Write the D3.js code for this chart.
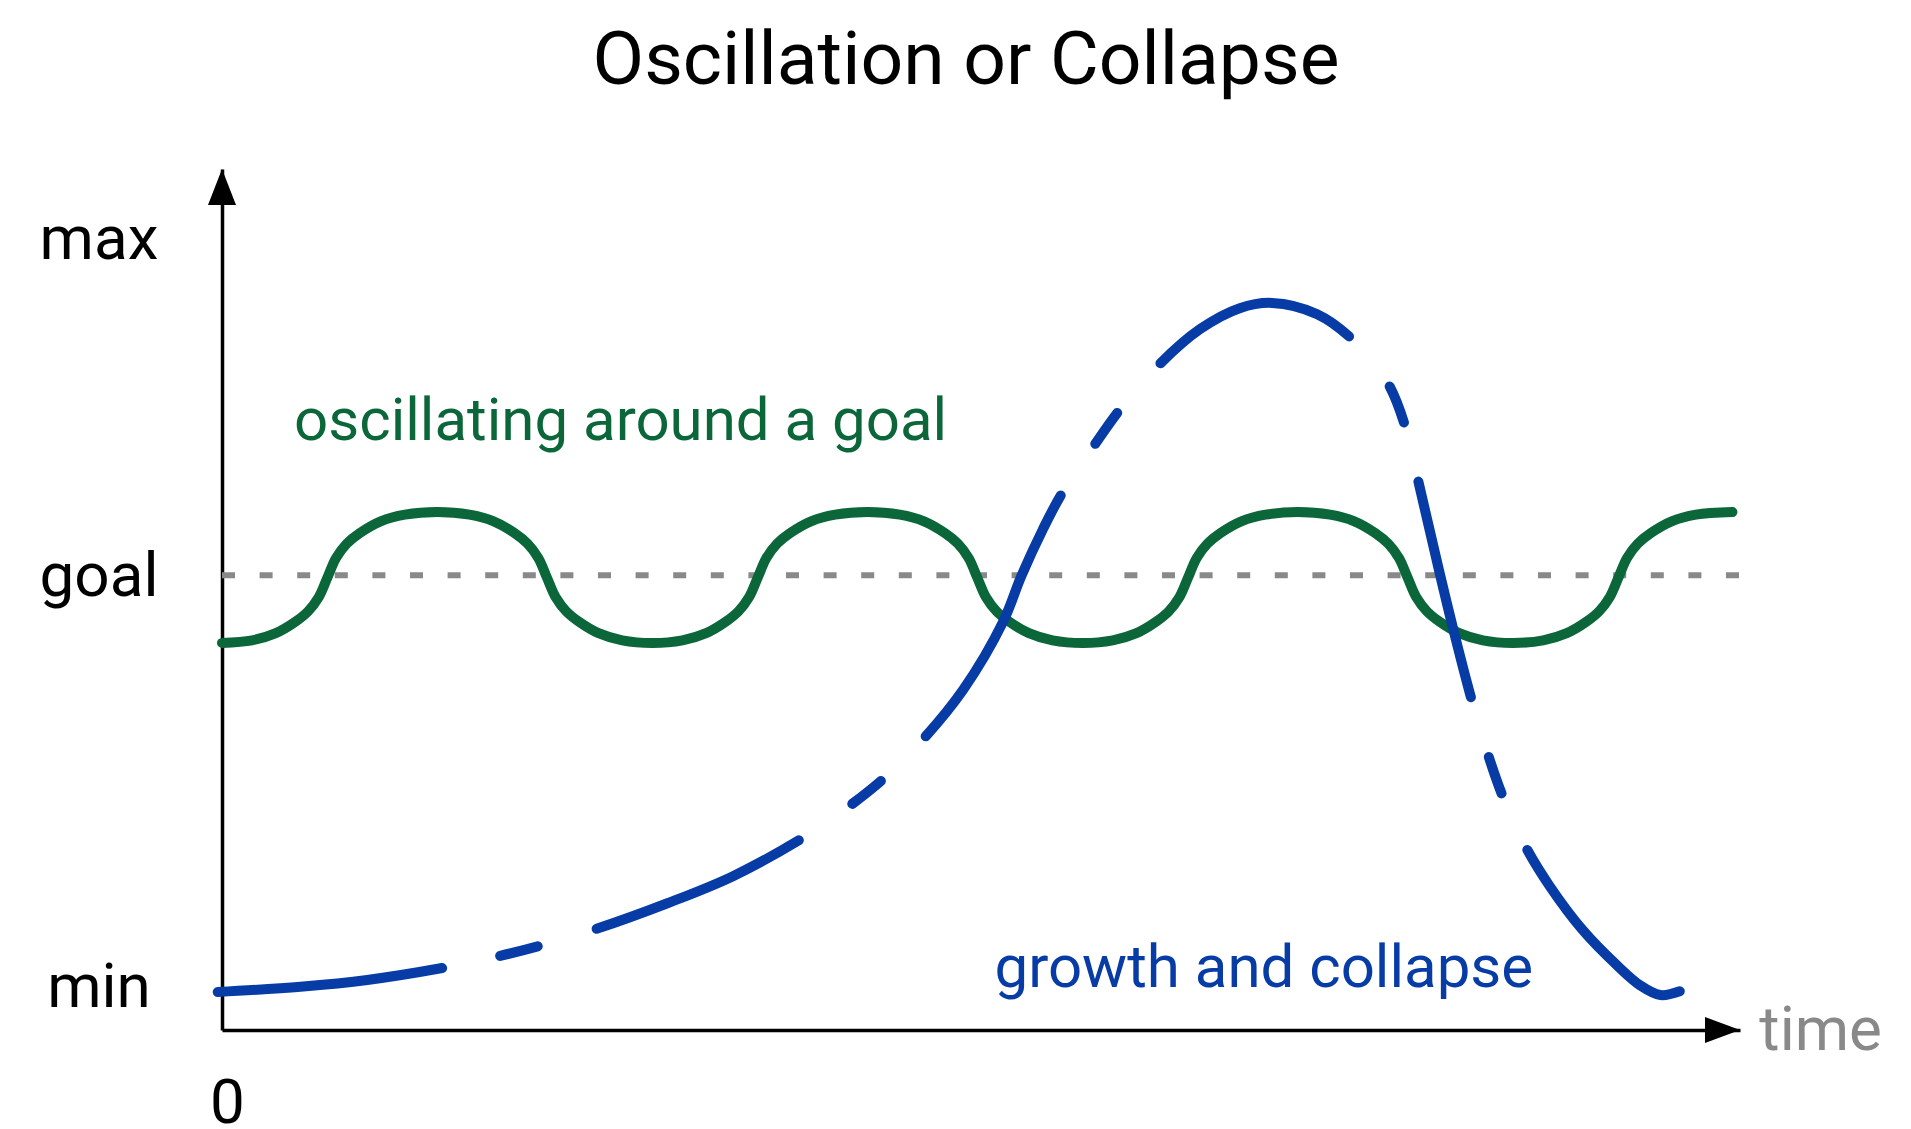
<!DOCTYPE html>
<html>
<head>
<meta charset="utf-8">
<title>Oscillation or Collapse</title>
<script src="https://cdn.jsdelivr.net/npm/d3@7"></script>
<style>
  body { margin: 0; background: #fff; }
  svg { display: block; font-family: Roboto, "Noto Sans", sans-serif; }
</style>
</head>
<body>
<div id="chart"></div>
<script>
/* Oscillation or Collapse - sketch of two behaviours over time */

const width = 1911,
    height = 1129,
    margin = ({ top: 169, right: 171, bottom: 99, left: 222 });

// time is counted in quarter swings of the oscillation
const timeMax = 14.11;
const levelMin = -5.05, levelMax = 109.4;

// y axis labels
const levelTicks = [0.7, 55.4, 100.2];
const levelNames = ["min", "goal", "max"];
const goalLevel = 55.4;
const timeTicks = [0];

// green: oscillating around a goal  [time, level]
const oscillation = [
  [0, 46.4], [0.28, 46.75], [0.5, 47.7], [0.68, 49.2], [0.8, 50.6], [0.9, 52.5], [0.98, 55.1],
  [1.06, 57.7], [1.16, 59.6], [1.28, 61.0], [1.48, 62.6], [1.7, 63.45], [2, 63.8],
  [2.3, 63.45], [2.52, 62.6], [2.72, 61.0], [2.84, 59.6], [2.94, 57.7], [3.02, 55.1],
  [3.1, 52.5], [3.2, 50.6], [3.32, 49.2], [3.5, 47.7], [3.72, 46.75], [4, 46.4],
  [4.28, 46.75], [4.5, 47.7], [4.68, 49.2], [4.8, 50.6], [4.9, 52.5], [4.98, 55.1],
  [5.06, 57.7], [5.16, 59.6], [5.28, 61.0], [5.48, 62.6], [5.7, 63.45], [6, 63.8],
  [6.3, 63.45], [6.52, 62.6], [6.72, 61.0], [6.84, 59.6], [6.94, 57.7], [7.02, 55.1],
  [7.1, 52.5], [7.2, 50.6], [7.32, 49.2], [7.5, 47.7], [7.72, 46.75], [8, 46.4],
  [8.28, 46.75], [8.5, 47.7], [8.68, 49.2], [8.8, 50.6], [8.9, 52.5], [8.98, 55.1],
  [9.06, 57.7], [9.16, 59.6], [9.28, 61.0], [9.48, 62.6], [9.7, 63.45], [10, 63.8],
  [10.3, 63.45], [10.52, 62.6], [10.72, 61.0], [10.84, 59.6], [10.94, 57.7], [11.02, 55.1],
  [11.1, 52.5], [11.2, 50.6], [11.32, 49.2], [11.5, 47.7], [11.72, 46.75], [12, 46.4],
  [12.28, 46.75], [12.5, 47.7], [12.68, 49.2], [12.8, 50.6], [12.9, 52.5], [12.98, 55.1],
  [13.06, 57.7], [13.16, 59.6], [13.28, 61.0], [13.48, 62.6], [13.7, 63.45], [14.04, 63.8]
];

// blue: growth and collapse  [time, level]
const growthCollapse = [
  [-0.04, 0.0], [0.73, 0.7], [1.35, 1.6], [2.09, 3.3], [2.54, 4.65], [2.98, 6.25], [3.44, 8.2],
  [4.14, 11.8], [4.75, 15.4], [5.40, 20.5], [5.82, 24.6], [6.16, 28.5], [6.51, 33.5], [6.89, 40.2],
  [7.26, 49.2], [7.43, 55.3], [7.63, 61.5], [7.80, 66.1], [8.09, 72.3], [8.35, 77.5], [8.69, 83.1],
  [9.09, 88.1], [9.46, 90.9], [9.76, 91.6], [10.18, 90.1], [10.51, 86.7], [10.83, 81.1], [11.00, 75.1],
  [11.11, 68.5], [11.30, 56.8], [11.44, 48.5], [11.62, 38.6], [11.76, 31.9], [11.91, 25.8], [12.11, 19.5],
  [12.34, 14.1], [12.65, 8.2], [12.97, 3.5], [13.18, 0.9], [13.37, -0.4], [13.55, 0.1]
];

// the inked stretches of the blue dashed line, as time ranges
const growthDashes = [
  [-0.04, 2.09], [2.54, 2.98], [3.44, 5.40], [5.82, 6.16], [6.51, 7.82], [8.09, 8.35],
  [8.69, 10.51], [10.83, 11.00], [11.11, 11.62], [11.76, 11.91], [12.11, 13.55]
];

const green = "#0b6639",
    blue = "#073ca6",
    grey = "#898989";

const svg = d3.select("#chart")
    .append("svg")
    .attr("width", width)
    .attr("height", height)
    .attr("viewBox", [0, 0, width, height]);

let x = d3.scaleLinear()
    .domain([0, timeMax])
    .range([margin.left, width - margin.right]);

let y = d3.scaleLinear()
    .domain([levelMin, levelMax])
    .range([height - margin.bottom, margin.top]);

// Title
svg.append("text")
    .attr("x", 966)
    .attr("y", 84)
    .attr("text-anchor", "middle")
    .attr("font-size", 75)
    .attr("fill", "#000")
    .text("Oscillation or Collapse");

// Y axis with the level names
const yAxis = svg.append("g")
    .attr("transform", `translate(${margin.left},0)`)
    .call(d3.axisLeft(y).tickValues(levelTicks).tickSize(0).tickSizeOuter(0)
        .tickFormat((d, i) => levelNames[i]));
yAxis.attr("font-family", null).attr("font-size", 62);
yAxis.select(".domain").attr("stroke", "#000").attr("stroke-width", 3.5);
yAxis.selectAll("text")
    .attr("text-anchor", "middle")
    .attr("x", -(margin.left - 99))
    .attr("fill", "#000");

// X axis, only the origin labelled
const xAxis = svg.append("g")
    .attr("transform", `translate(0,${height - margin.bottom})`)
    .call(d3.axisBottom(x).tickValues(timeTicks).tickSize(0).tickSizeOuter(0).tickPadding(49));
xAxis.attr("font-family", null).attr("font-size", 62);
xAxis.select(".domain").attr("stroke", "#000").attr("stroke-width", 3.5);
xAxis.selectAll("text").attr("dx", "0.08em").attr("fill", "#000");

// arrow heads
const yTip = [x(0), y(levelMax)],
    xTip = [x(timeMax), y(levelMin)];
svg.append("path")
    .attr("d", `M${yTip[0]},${yTip[1]}L${yTip[0] + 14},${yTip[1] + 36}L${yTip[0] - 14},${yTip[1] + 36}Z`)
    .attr("fill", "#000");
svg.append("path")
    .attr("d", `M${xTip[0]},${xTip[1]}L${xTip[0] - 35},${xTip[1] - 13}L${xTip[0] - 35},${xTip[1] + 13}Z`)
    .attr("fill", "#000");

svg.append("text")
    .attr("x", x(14.29))
    .attr("y", y(-7.7))
    .attr("font-size", 62)
    .attr("fill", grey)
    .text("time");

// goal line
svg.append("line")
    .attr("x1", x(0))
    .attr("x2", x(timeMax))
    .attr("y1", y(goalLevel))
    .attr("y2", y(goalLevel))
    .attr("stroke", grey)
    .attr("stroke-width", 6)
    .attr("stroke-dasharray", "13 24.6");

let line = d3.line()
    .x(d => x(d[0]))
    .y(d => y(d[1]));

svg.append("path")
    .datum(oscillation)
    .attr("d", line.curve(d3.curveCatmullRom.alpha(0.5)))
    .attr("fill", "none")
    .attr("stroke", green)
    .attr("stroke-width", 10)
    .attr("stroke-linecap", "round");

const bluePath = svg.append("path")
    .datum(growthCollapse)
    .attr("d", line.curve(d3.curveCatmullRom.alpha(0.5)))
    .attr("fill", "none")
    .attr("stroke", blue)
    .attr("stroke-width", 10)
    .attr("stroke-linecap", "round");

// turn the time ranges into a dash pattern along the path
function lengthAt(node, px) {
  let lo = 0, hi = node.getTotalLength();
  for (let i = 0; i < 40; i++) {
    const mid = (lo + hi) / 2;
    if (node.getPointAtLength(mid).x < px) lo = mid; else hi = mid;
  }
  return lo;
}
const node = bluePath.node(),
    total = node.getTotalLength(),
    cap = 5;
let pattern = [], pos = 0;
growthDashes.forEach(([a, b], i) => {
  const s = i === 0 ? 0 : lengthAt(node, x(a)) + cap;
  const e = i === growthDashes.length - 1 ? total : lengthAt(node, x(b)) - cap;
  if (i > 0) pattern.push(s - pos);
  pattern.push(Math.max(0.1, e - s));
  pos = e;
});
pattern.push(total);
bluePath.attr("stroke-dasharray", pattern.join(" "));

// curve captions
svg.append("text")
    .attr("x", x(0.67))
    .attr("y", y(73.4))
    .attr("font-size", 60)
    .attr("fill", green)
    .text("oscillating around a goal");

svg.append("text")
    .attr("x", x(7.18))
    .attr("y", y(0.67))
    .attr("font-size", 60)
    .attr("fill", blue)
    .text("growth and collapse");
</script>
</body>
</html>
